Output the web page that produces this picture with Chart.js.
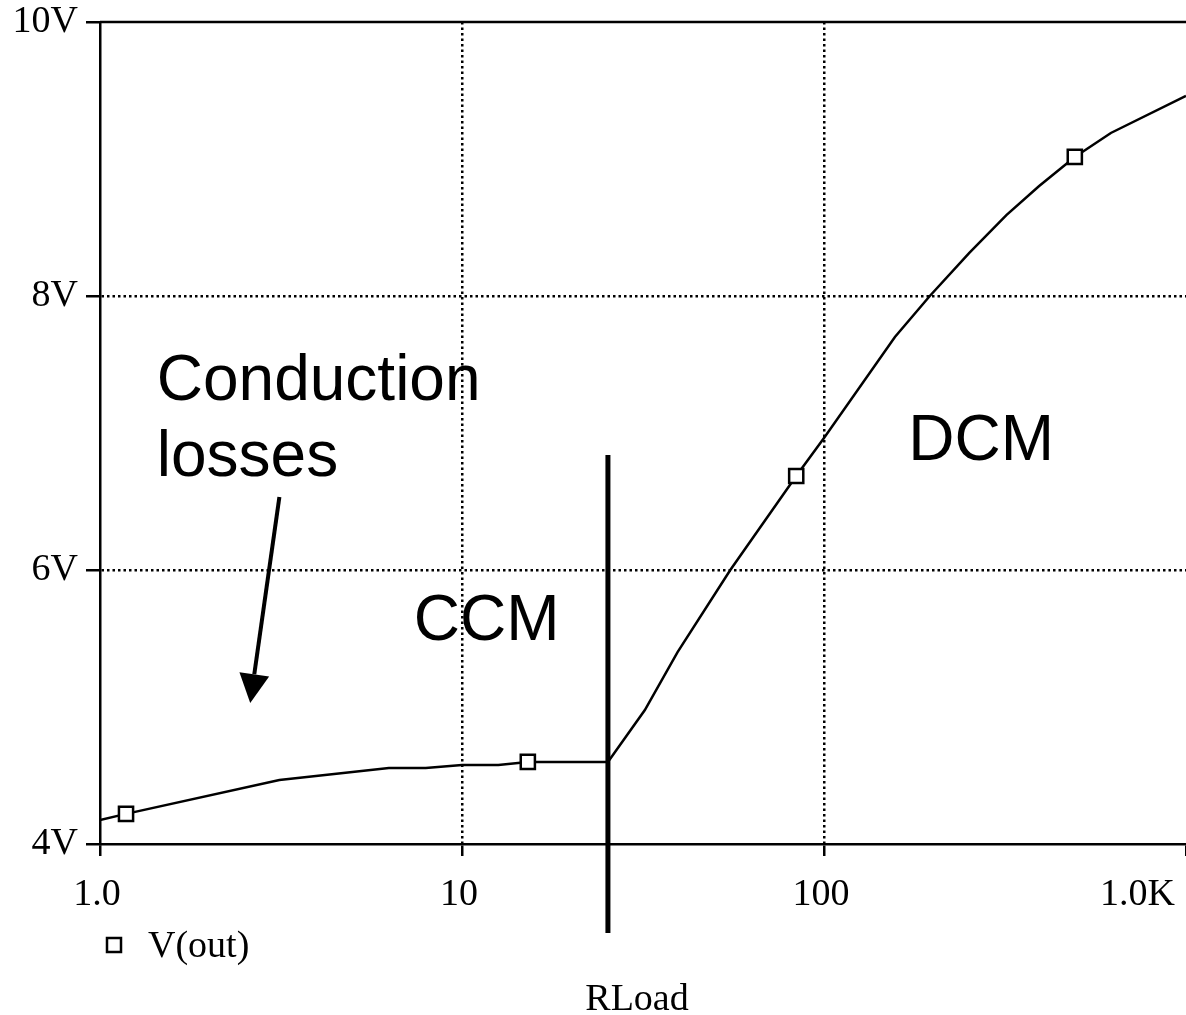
<!DOCTYPE html>
<html>
<head>
<meta charset="utf-8">
<script src="https://cdn.jsdelivr.net/npm/chart.js@4.4.0/dist/chart.umd.min.js"></script>
<style>
  html, body { margin: 0; padding: 0; background: #fff; }
  #wrap { width: 1186px; height: 1015px; }
</style>
</head>
<body>
<div id="wrap"><canvas id="chart" width="1186" height="1015"></canvas></div>
<script>
// V(out) against RLoad
const rLoad = [1.0, 1.18, 3.13, 6.28, 7.94, 10, 12.6, 15.2, 25.3, 32.0, 39.4, 55.1, 83.8, 100, 157, 196, 252, 319, 393, 493, 620, 1000];
const vOut = [4.175, 4.22, 4.467, 4.555, 4.555, 4.577, 4.577, 4.599, 4.599, 4.978, 5.401, 6.0, 6.686, 6.964, 7.701, 8.0, 8.314, 8.591, 8.803, 9.015, 9.19, 9.46];

// the hollow square markers PSpice puts on the trace
const markerR = [1.18, 15.2, 83.8, 493];
const markerV = [4.22, 4.599, 6.686, 9.015];

const xTicks = [1, 10, 100, 1000];
const xTickLabels = ['1.0', '10', '100', '1.0K'];
const yTicks = [4, 6, 8, 10];

// hand drawn notes on the plot, anchored in data units (RLoad, V)
const noteText = ['Conduction', 'losses', 'CCM', 'DCM'];
const noteR = [1.435, 1.435, 7.36, 171];
const noteV = [7.241, 6.686, 5.489, 6.803];
const arrowFrom = [3.13, 6.533];
const arrowTo = [2.60, 5.029];
const boundaryR = 25.3;
const boundaryV = [3.35, 6.84];

const serif = "'Liberation Serif', 'Times New Roman', serif";
const sans = "'Liberation Sans', Arial, sans-serif";

// grid lines on the frame edges are drawn solid elsewhere, so hide them here
function gridColor(ticks) {
    return (c) => (c.index === 0 || c.index === ticks.length - 1) ? 'rgba(0,0,0,0)' : '#000';
}

// fixed frame: plot area from (100,22) to the right edge, bottom at 844
function noPad(s) {
    s.paddingTop = 0;
    s.paddingBottom = 0;
    s.paddingLeft = 0;
    s.paddingRight = 0;
}

const extras = {
    id: 'extras',
    afterDraw(chart) {
        const ctx = chart.ctx;
        const area = chart.chartArea;
        const x = chart.scales.x;
        const y = chart.scales.y;
        ctx.save();
        ctx.fillStyle = '#000';
        ctx.strokeStyle = '#000';

        // top frame line
        ctx.lineWidth = 2.5;
        ctx.beginPath();
        ctx.moveTo(area.left, area.top);
        ctx.lineTo(area.right, area.top);
        ctx.stroke();

        // x tick labels, last one kept inside the frame
        ctx.font = '38px ' + serif;
        ctx.textBaseline = 'alphabetic';
        xTicks.forEach((v, i) => {
            const px = x.getPixelForValue(v);
            if (i === xTicks.length - 1) {
                ctx.textAlign = 'right';
                ctx.fillText(xTickLabels[i], area.right - 11, area.bottom + 61);
            } else {
                ctx.textAlign = 'center';
                ctx.fillText(xTickLabels[i], px - 3, area.bottom + 61);
            }
        });

        // legend
        const ds = chart.data.datasets.find(d => d.label === 'V(out)');
        ctx.lineWidth = 2.5;
        ctx.strokeRect(area.left + 7, area.bottom + 94, 14, 14);
        ctx.textAlign = 'left';
        ctx.fillText(ds.label, area.left + 48, area.bottom + 113);

        // axis title
        ctx.textAlign = 'center';
        ctx.fillText('RLoad', (area.left + area.right) / 2 - 6, area.bottom + 166);

        // notes
        ctx.font = '64px ' + sans;
        ctx.textAlign = 'left';
        noteText.forEach((t, i) => {
            ctx.fillText(t, x.getPixelForValue(noteR[i]), y.getPixelForValue(noteV[i]));
        });

        // arrow pointing at the low-R part of the curve
        const fx = x.getPixelForValue(arrowFrom[0]), fy = y.getPixelForValue(arrowFrom[1]);
        const tx = x.getPixelForValue(arrowTo[0]), ty = y.getPixelForValue(arrowTo[1]);
        const len = Math.hypot(tx - fx, ty - fy);
        const ux = (tx - fx) / len, uy = (ty - fy) / len;
        const bx = tx - ux * 29, by = ty - uy * 29;
        ctx.lineWidth = 4;
        ctx.beginPath();
        ctx.moveTo(fx, fy);
        ctx.lineTo(bx, by);
        ctx.stroke();
        ctx.beginPath();
        ctx.moveTo(tx, ty);
        ctx.lineTo(bx - uy * 15, by + ux * 15);
        ctx.lineTo(bx + uy * 15, by - ux * 15);
        ctx.closePath();
        ctx.fill();

        // CCM / DCM boundary
        const lx = x.getPixelForValue(boundaryR);
        ctx.lineWidth = 5;
        ctx.beginPath();
        ctx.moveTo(lx, y.getPixelForValue(boundaryV[0]));
        ctx.lineTo(lx, y.getPixelForValue(boundaryV[1]));
        ctx.stroke();

        ctx.restore();
    }
};

new Chart(document.getElementById('chart'), {
    type: 'scatter',
    data: {
        datasets: [
            {
                label: 'markers',
                data: markerR.map((r, i) => ({ x: r, y: markerV[i] })),
                showLine: false,
                pointStyle: 'rect',
                pointRadius: 10,
                pointBorderWidth: 2.5,
                pointBorderColor: '#000',
                pointBackgroundColor: '#fff'
            },
            {
                label: 'V(out)',
                data: rLoad.map((r, i) => ({ x: r, y: vOut[i] })),
                showLine: true,
                borderColor: '#000',
                borderWidth: 2.5,
                pointRadius: 0,
                tension: 0,
                fill: false
            }
        ]
    },
    options: {
        responsive: false,
        animation: false,
        layout: { autoPadding: false, padding: { top: 22, right: 0, left: 0, bottom: 0 } },
        plugins: { legend: { display: false }, tooltip: { enabled: false } },
        scales: {
            x: {
                type: 'logarithmic',
                min: 1,
                max: 1000,
                afterBuildTicks: (s) => { s.ticks = xTicks.map(v => ({ value: v })); },
                afterFit: (s) => { s.height = 171; noPad(s); },
                ticks: { display: false },
                grid: { color: gridColor(xTicks), lineWidth: 2.5, tickLength: 12, tickWidth: 2.5, tickColor: '#000', tickBorderDash: [] },
                border: { display: true, color: '#000', width: 2.5, dash: [2.5, 3] }
            },
            y: {
                min: 4,
                max: 10,
                afterBuildTicks: (s) => { s.ticks = yTicks.map(v => ({ value: v })); },
                afterFit: (s) => { s.width = 100; noPad(s); },
                ticks: { color: '#000', font: { family: serif, size: 38 }, padding: 8, callback: (v) => v + 'V' },
                grid: { color: gridColor(yTicks), lineWidth: 2.5, tickLength: 14, tickWidth: 2.5, tickColor: '#000', tickBorderDash: [] },
                border: { display: true, color: '#000', width: 2.5, dash: [2.5, 3] }
            }
        }
    },
    plugins: [extras]
});
</script>
</body>
</html>
